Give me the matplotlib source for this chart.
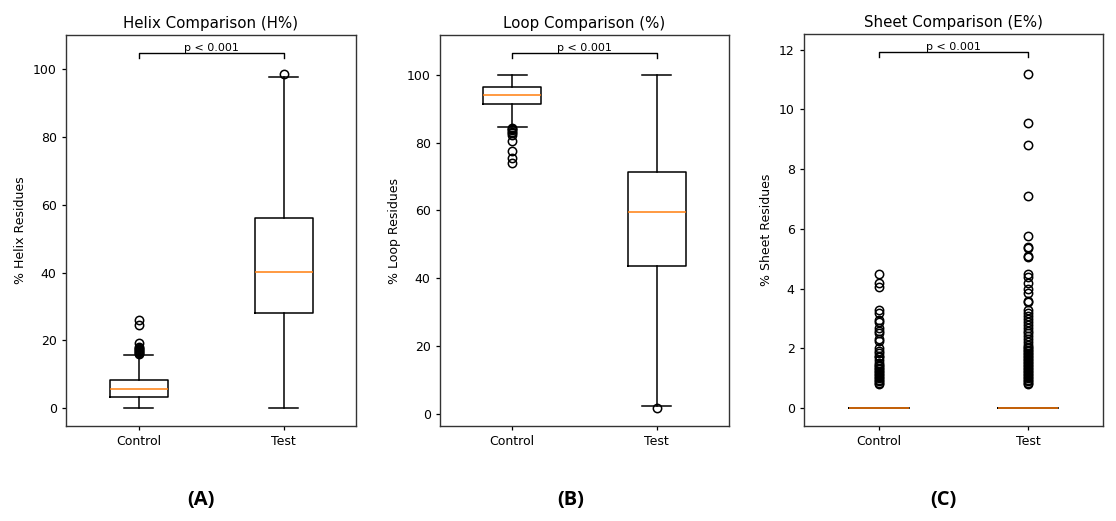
import matplotlib
matplotlib.use("Agg")
import matplotlib.pyplot as plt

# ---------------- data ----------------
groups = ["Control", "Test"]

# Helix (H%)
helix_q1 = [3.3, 28.2]
helix_med = [5.8, 40.2]
helix_q3 = [8.2, 56.0]
helix_lo = [0.0, 0.0]
helix_hi = [15.6, 97.8]
helix_fliers_control = [15.9, 16.2, 16.5, 16.8, 17.1, 17.4, 17.7, 18.0, 19.3, 24.5, 26.0]
helix_fliers_test = [98.5]

# Loop (%)
loop_q1 = [91.5, 43.7]
loop_med = [94.0, 59.5]
loop_q3 = [96.4, 71.4]
loop_lo = [84.6, 2.4]
loop_hi = [100.0, 100.0]
loop_fliers_control = [84.3, 84.0, 83.6, 83.2, 82.7, 82.2, 80.6, 77.6, 75.5, 74.0]
loop_fliers_test = [1.6]

# Sheet (E%)
sheet_q1 = [0.0, 0.0]
sheet_med = [0.0, 0.0]
sheet_q3 = [0.0, 0.0]
sheet_lo = [0.0, 0.0]
sheet_hi = [0.0, 0.0]
sheet_fliers_control = [0.8, 0.85, 0.9, 0.95, 1.0, 1.05, 1.1, 1.15, 1.2, 1.25, 1.3, 1.35,
                        1.4, 1.45, 1.5, 1.6, 1.7, 1.75, 1.85, 1.9, 2.0, 2.25, 2.3, 2.5,
                        2.6, 2.7, 2.9, 2.95, 3.2, 3.3, 4.05, 4.2, 4.5]
sheet_fliers_test = [0.8, 0.85, 0.9, 0.95, 1.0, 1.05, 1.1, 1.15, 1.2, 1.25, 1.3, 1.35,
                     1.4, 1.45, 1.5, 1.55, 1.6, 1.65, 1.7, 1.75, 1.8, 1.85, 1.9, 1.95,
                     2.0, 2.05, 2.1, 2.2, 2.3, 2.4, 2.5, 2.6, 2.7, 2.8, 2.9, 3.0, 3.1,
                     3.2, 3.3, 3.55, 3.6, 3.85, 4.0, 4.2, 4.4, 4.5, 5.05, 5.1, 5.35,
                     5.4, 5.75, 7.1, 8.8, 9.55, 11.2]

titles = ["Helix Comparison (H%)", "Loop Comparison (%)", "Sheet Comparison (E%)"]
ylabels = ["% Helix Residues", "% Loop Residues", "% Sheet Residues"]
panel_labels = ["(A)", "(B)", "(C)"]
p_text = "p < 0.001"


def make_stats(q1, med, q3, lo, hi, fl_c, fl_t):
    fl = [fl_c, fl_t]
    return [dict(label=groups[i], q1=q1[i], med=med[i], q3=q3[i],
                 whislo=lo[i], whishi=hi[i], fliers=fl[i]) for i in range(2)]


stats = [
    make_stats(helix_q1, helix_med, helix_q3, helix_lo, helix_hi,
               helix_fliers_control, helix_fliers_test),
    make_stats(loop_q1, loop_med, loop_q3, loop_lo, loop_hi,
               loop_fliers_control, loop_fliers_test),
    make_stats(sheet_q1, sheet_med, sheet_q3, sheet_lo, sheet_hi,
               sheet_fliers_control, sheet_fliers_test),
]

fig = plt.figure(figsize=(11.16, 5.21), dpi=100)
W, H = 1116, 521
boxes = [(66, 356, 35, 426), (440, 729, 35, 426), (804, 1103, 34, 426)]
label_x = [201, 571, 943]

for k in range(3):
    l, r, t, b = boxes[k]
    ax = fig.add_axes([l / W, 1 - b / H, (r - l) / W, (b - t) / H])
    ax.bxp(stats[k], positions=[1, 2], widths=0.4,
           boxprops=dict(color="black", linewidth=1.1),
           whiskerprops=dict(color="black", linewidth=1.1),
           capprops=dict(color="black", linewidth=1.1),
           medianprops=dict(color="#ff7f0e", linewidth=1.1, zorder=3),
           flierprops=dict(marker="o", markerfacecolor="none",
                           markeredgecolor="black", markersize=6,
                           markeredgewidth=1.1))
    ax.set_xticks([1, 2])
    ax.set_xticklabels(groups)
    # significance bracket
    all_vals = [s["whishi"] for s in stats[k]] + \
        [max(s["fliers"]) for s in stats[k] if len(s["fliers"])]
    ymax = max(all_vals)
    y0 = ymax * 1.05
    h = ymax * 0.015
    ax.plot([1, 1, 2, 2], [y0, y0 + h, y0 + h, y0], color="black", linewidth=1.0)
    ax.text(1.5, y0 + h, p_text, ha="center", va="bottom", fontsize=8)
    ax.set_xlim(0.5, 2.5)
    ax.set_title(titles[k], fontsize=10.8, pad=5)
    ax.set_ylabel(ylabels[k], fontsize=9)
    ax.tick_params(labelsize=9, length=3.2, width=0.9)
    for sp in ax.spines.values():
        sp.set_linewidth(1.0)
        sp.set_color("#333333")
    fig.text(label_x[k] / W, 1 - 500 / H, panel_labels[k], ha="center",
             va="center", fontsize=14.5, fontweight="bold", family="Open Sans")

fig.savefig("out.png", dpi=100, facecolor="white")
